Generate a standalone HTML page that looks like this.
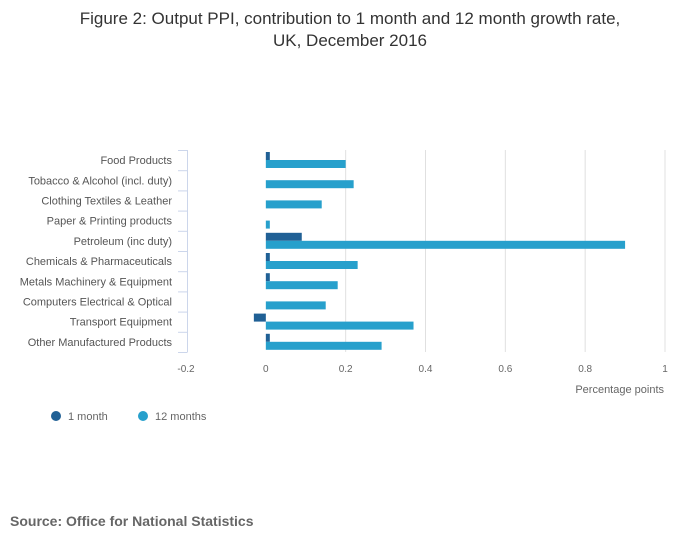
<!DOCTYPE html>
<html><head><meta charset="utf-8"><style>
body{margin:0;background:#fff;font-family:"Liberation Sans",sans-serif}
svg text{font-family:"Liberation Sans",sans-serif}
</style></head><body>
<svg width="700" height="549" xmlns="http://www.w3.org/2000/svg">
<text x="350" y="24" text-anchor="middle" font-size="17" fill="#333">Figure 2: Output PPI, contribution to 1 month and 12 month growth rate,</text>
<text x="350" y="46" text-anchor="middle" font-size="17" fill="#333">UK, December 2016</text>
<g id="grid"></g><g id="bars"></g><g id="labels"></g>
<text x="664" y="393" text-anchor="end" font-size="11" fill="#666">Percentage points</text>
<circle cx="56" cy="416" r="5" fill="#206095"/>
<text x="68" y="420" font-size="11" fill="#666">1 month</text>
<circle cx="143" cy="416" r="5" fill="#27a0cc"/>
<text x="155" y="420" font-size="11" fill="#666">12 months</text>
<text x="10" y="526" font-size="14" font-weight="bold" fill="#666">Source: Office for National Statistics</text>
</svg>
<script>
const categories=["Food Products","Tobacco & Alcohol (incl. duty)","Clothing Textiles & Leather","Paper & Printing products","Petroleum (inc duty)","Chemicals & Pharmaceuticals","Metals Machinery & Equipment","Computers Electrical & Optical","Transport Equipment","Other Manufactured Products"];
const oneMonth=[0.01,0,0,0,0.09,0.01,0.01,0,-0.03,0.01];
const twelveMonths=[0.2,0.22,0.14,0.01,0.9,0.23,0.18,0.15,0.37,0.29];
const ticks=[-0.2,0,0.2,0.4,0.6,0.8,1];
const NS="http://www.w3.org/2000/svg";
const x0=186,x1=665,vmin=-0.2,vmax=1,yTop=150,yBot=352;
const xs=v=>x0+(v-vmin)/(vmax-vmin)*(x1-x0);
const band=(yBot-yTop)/categories.length;
const ys=i=>yTop+i*band;
function mk(tag,attrs,parent){const e=document.createElementNS(NS,tag);for(const k in attrs)e.setAttribute(k,attrs[k]);document.getElementById(parent).appendChild(e);return e;}
ticks.forEach(t=>{
 if(t>0){const l=mk('line',{x1:xs(t),x2:xs(t),y1:yTop,y2:yBot,stroke:'#e0e0e0'},'grid');
 
 }
 const tx=mk('text',{x:xs(t),y:372,'text-anchor':'middle','font-size':'10',fill:'#666'},'labels');
 tx.textContent=String(t);
 
 
});
const ax=mk('line',{x1:187.5,x2:187.5,y1:yTop,y2:yBot,stroke:'#ccd6eb'},'grid');


for(let i=0;i<=categories.length;i++){
 const tk=mk('line',{x1:178,x2:187.5,y1:ys(i)+0.5,y2:ys(i)+0.5,stroke:'#ccd6eb'},'grid');
 
 
}
categories.forEach((c,i)=>{
 const t=mk('text',{x:172,y:ys(i)+band/2+4,'text-anchor':'end','font-size':'11',fill:'#555'},'labels');
 t.textContent=c;
 
 
 const v1=oneMonth[i],v2=twelveMonths[i];
 if(v1!==0){const b=mk('rect',{x:Math.min(xs(0),xs(v1)),y:ys(i)+2,width:Math.abs(xs(v1)-xs(0)),height:8,fill:'#206095'},'bars');
 
 }
 const b2=mk('rect',{x:Math.min(xs(0),xs(v2)),y:ys(i)+10,width:Math.abs(xs(v2)-xs(0)),height:8,fill:'#27a0cc'},'bars');
 
 
});
</script>
</body></html>
